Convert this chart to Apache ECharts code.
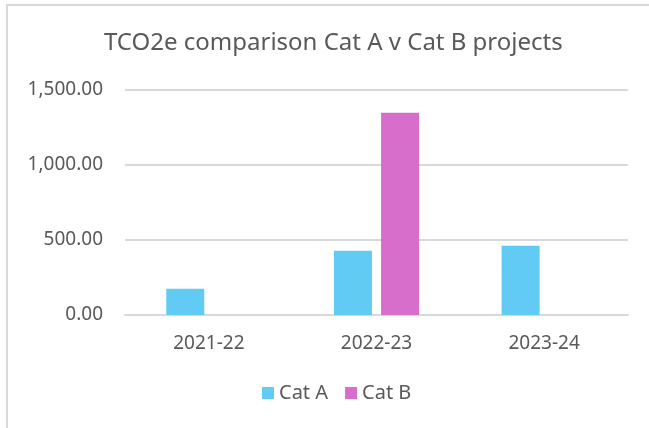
<!DOCTYPE html>
<html>
<head>
<meta charset="utf-8">
<script src="https://cdn.jsdelivr.net/npm/echarts@6/dist/echarts.min.js"></script>
<style>
  html, body { margin: 0; padding: 0; background: #fff; }
  #chart { width: 649px; height: 428px; }
</style>
</head>
<body>
<div id="chart"></div>
<script>
// 数据
var categories = ['2021-22', '2022-23', '2023-24']
var catA = [175, 429, 462]
var catB = [null, 1349, null]
var yTicks = [0, 500, 1000, 1500]

var chart = echarts.init(document.getElementById('chart'))
var font = 'Noto Sans'

chart.setOption({
  color: ['#61CBF3', '#D86ECC'],
  animation: false,
  // 外框
  graphic: [{
    type: 'rect',
    shape: { x: 7, y: 5, width: 700, height: 500 },
    style: { fill: 'none', stroke: '#d9d9d9', lineWidth: 2 },
    silent: true
  }],
  title: {
    text: 'TCO2e comparison Cat A v Cat B projects',
    left: 99,
    top: 26,
    textStyle: { fontFamily: font, fontSize: 24, fontWeight: 'normal', color: '#595959' }
  },
  legend: {
    data: ['Cat A', 'Cat B'],
    bottom: 20,
    left: 257,
    itemWidth: 12,
    itemHeight: 12,
    itemGap: 17,
    icon: 'rect',
    textStyle: { fontFamily: font, fontSize: 20, color: '#595959' }
  },
  grid: {
    left: 125,
    right: 21,
    top: 90,
    bottom: 113,
    containLabel: false
  },
  xAxis: {
    type: 'category',
    data: categories,
    axisLine: { show: true, lineStyle: { color: '#d9d9d9', width: 2 } },
    axisTick: { show: false },
    axisLabel: { fontFamily: font, fontSize: 19, color: '#595959', margin: 19 }
  },
  yAxis: {
    type: 'value',
    min: yTicks[0],
    max: yTicks[yTicks.length - 1],
    interval: 500,
    axisLine: { show: false },
    axisTick: { show: false },
    axisLabel: {
      fontFamily: font,
      fontSize: 19,
      color: '#595959',
      margin: 22,
      formatter: function (v) {
        return v.toLocaleString('en-US', { minimumFractionDigits: 2, maximumFractionDigits: 2 })
      }
    },
    splitLine: { show: true, lineStyle: { color: '#d9d9d9', width: 2 } }
  },
  series: [
    { name: 'Cat A', type: 'bar', data: catA, barWidth: 38, barGap: '24%' },
    { name: 'Cat B', type: 'bar', data: catB, barWidth: 38, barGap: '24%' }
  ]
})
</script>
</body>
</html>
